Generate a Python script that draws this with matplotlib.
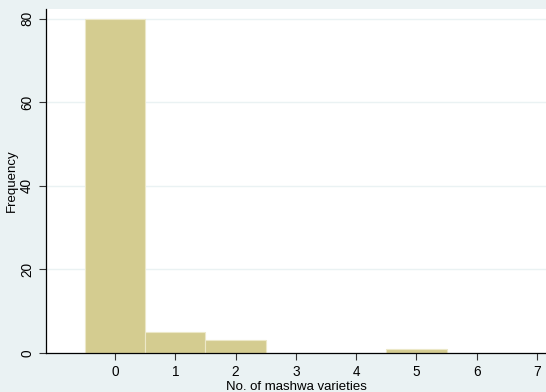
import numpy as np
import matplotlib.pyplot as plt

# number of mashwa varieties grown and how many farms reported each count
varieties = [0, 1, 2, 5]
frequency = [80, 5, 3, 1]
xticks = [0, 1, 2, 3, 4, 5, 6, 7]
yticks = [0, 20, 40, 60, 80]

plt.rcParams['font.family'] = ['Liberation Sans', 'DejaVu Sans']

bg = '#eaf2f3'
fill = '#d4cc90'

fig = plt.figure(figsize=(5.46, 3.92), dpi=100, facecolor=bg)
ax = fig.add_axes([0.0842, 0.0995, 0.9158, 0.8775])
ax.set_facecolor('white')

ax.bar(varieties, frequency, width=1.0, color=fill, edgecolor='#ece8c8',
       linewidth=0.8, zorder=2)

ax.set_xlim(-1.146, 7.15)
ax.set_ylim(0, 82.3)
ax.set_xticks(xticks)
ax.set_yticks(yticks)
ax.yaxis.grid(True, color=bg, linewidth=1.0, zorder=0)
ax.set_axisbelow(True)

for s in ['top', 'right']:
    ax.spines[s].set_visible(False)
for s in ['left', 'bottom']:
    ax.spines[s].set_color('black')
    ax.spines[s].set_linewidth(0.9)

ax.tick_params(axis='both', length=5, width=0.8, labelsize=9.8, color='#333333')
plt.setp(ax.get_yticklabels(), rotation=90, va='center')
ax.set_xlabel('No. of mashwa varieties', fontsize=9.5, labelpad=1.5)
ax.set_ylabel('Frequency', fontsize=9.5, labelpad=2)

fig.savefig('out.png', dpi=100, facecolor=bg)
